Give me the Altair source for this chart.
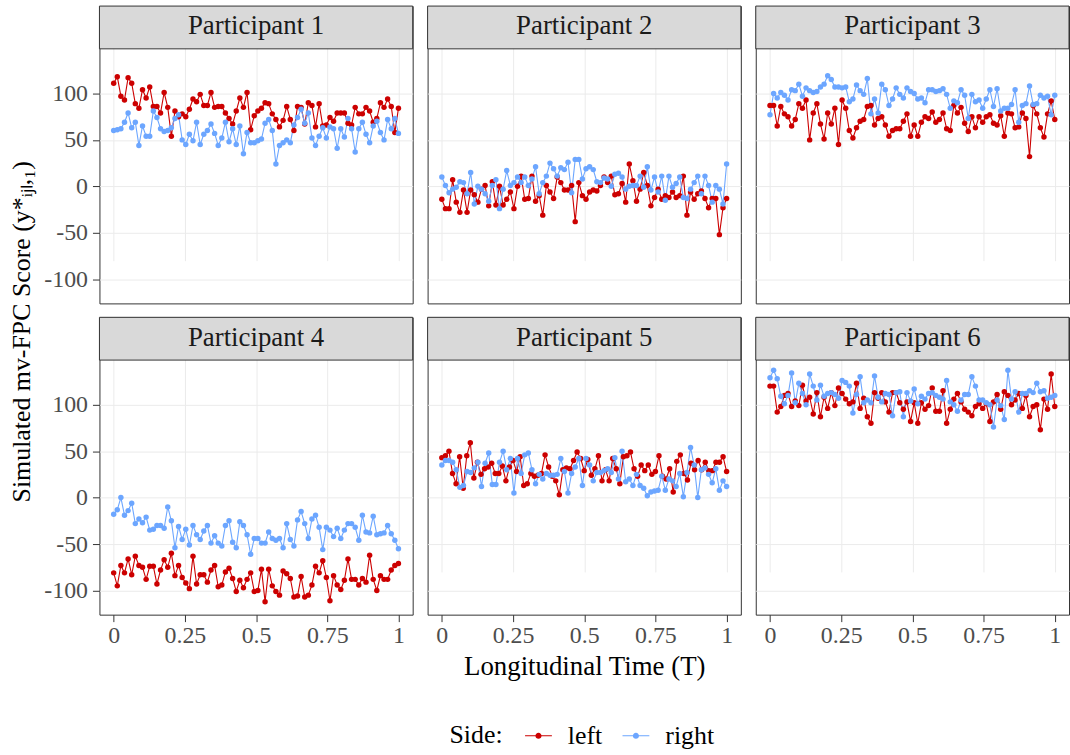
import altair as alt
import pandas as pd

# Simulated mv-FPC scores, one list per participant and side (evenly spaced times on [0, 1])
p1_left = [111, 118, 97, 93, 117, 111, 89, 84, 104, 95, 107, 86, 86, 79, 101, 85, 54, 81, 75, 78,
           75, 83, 94, 91, 99, 87, 87, 101, 85, 86, 86, 79, 73, 67, 81, 95, 85, 101, 61, 76,
           81, 84, 90, 89, 78, 72, 64, 71, 86, 72, 60, 86, 85, 67, 90, 87, 64, 89, 65, 66,
           74, 70, 79, 79, 79, 68, 66, 85, 78, 78, 85, 81, 69, 73, 90, 85, 94, 86, 58, 84]
p1_right = [60, 61, 62, 69, 79, 63, 69, 44, 65, 54, 54, 81, 74, 62, 59, 60, 63, 73, 77, 50,
            45, 56, 49, 69, 45, 56, 60, 67, 57, 44, 52, 69, 48, 62, 45, 65, 35, 58, 47, 47,
            49, 51, 68, 72, 60, 24, 44, 47, 50, 47, 66, 74, 83, 68, 79, 52, 44, 54, 63, 52,
            64, 62, 41, 62, 53, 73, 62, 37, 62, 69, 56, 47, 65, 70, 58, 50, 72, 62, 73, 57]
p2_left = [-14, -24, -24, 7, -17, -28, -4, -28, -4, -9, -17, -3, 1, -21, 5, -20, 0, -20, -14, -6,
           -24, 0, 11, -14, -13, 11, -16, -10, -31, 1, -6, -13, 10, 4, -4, -4, 1, -38, 4, -10,
           -14, -6, -4, -5, 1, 10, 4, 11, -9, -8, 3, -17, 24, 6, -16, -3, 15, 1, -21, -12,
           -3, -14, -10, -12, -6, -12, -10, 11, -31, -6, -14, -8, -5, -13, -23, -13, -13, -52, -23, -13]
p2_right = [10, 1, -7, -3, -1, 5, 4, -8, 15, -19, 0, -3, -8, -16, 1, 7, -24, -3, 17, 1,
            4, 10, 4, 10, 1, 8, 21, -8, 4, 11, 25, 19, 11, 20, 18, 26, -7, 29, 29, 8,
            19, 21, 18, 5, 4, 9, 8, 0, 13, 14, 10, -3, 0, 1, 1, 11, -1, 21, -4, 10,
            -6, 11, -15, 11, -1, 3, 10, -12, -13, -3, 4, 11, -8, 11, 1, -17, 1, -3, -19, 24]
p3_left = [87, 87, 65, 86, 78, 75, 65, 72, 89, 84, 93, 50, 79, 89, 67, 51, 79, 67, 84, 45,
           93, 84, 60, 52, 63, 70, 72, 86, 87, 66, 73, 75, 66, 54, 60, 62, 62, 70, 78, 54,
           66, 54, 69, 75, 73, 80, 69, 72, 79, 62, 60, 87, 79, 85, 68, 59, 75, 63, 75, 69,
           75, 77, 68, 66, 76, 54, 79, 78, 63, 64, 79, 73, 32, 87, 78, 63, 53, 78, 92, 72]
p3_right = [77, 100, 95, 101, 98, 93, 104, 103, 110, 97, 106, 103, 101, 102, 107, 110, 119, 115, 107, 107,
            106, 107, 91, 94, 109, 103, 99, 116, 78, 94, 79, 110, 104, 87, 94, 106, 99, 95, 106, 102,
            100, 94, 95, 90, 104, 104, 102, 103, 105, 99, 84, 92, 90, 104, 98, 73, 99, 91, 93, 84,
            94, 104, 86, 105, 81, 84, 84, 88, 104, 69, 87, 89, 108, 88, 89, 98, 95, 97, 77, 98]
p4_left = [-81, -95, -73, -81, -66, -83, -63, -73, -75, -88, -74, -74, -93, -78, -67, -75, -60, -84, -73, -86,
           -92, -98, -63, -93, -83, -83, -91, -78, -73, -96, -94, -80, -76, -87, -101, -89, -97, -88, -81, -101,
           -100, -77, -112, -77, -95, -101, -105, -79, -82, -87, -107, -106, -85, -107, -105, -94, -74, -81, -68, -86,
           -111, -84, -94, -99, -89, -66, -88, -88, -94, -87, -91, -62, -88, -100, -84, -88, -88, -78, -73, -71]
p4_right = [-18, -13, 0, -19, -14, -6, -28, -23, -27, -21, -35, -34, -30, -30, -33, -10, -25, -54, -31, -45,
            -34, -51, -30, -40, -45, -36, -30, -49, -41, -49, -52, -30, -25, -48, -54, -26, -30, -40, -61, -44,
            -44, -49, -49, -37, -44, -46, -44, -54, -28, -45, -52, -24, -15, -28, -44, -23, -19, -32, -56, -32,
            -35, -42, -33, -44, -35, -28, -28, -32, -46, -19, -37, -38, -20, -40, -39, -38, -30, -39, -46, -55]
p5_left = [43, 45, 50, 26, 15, 44, 10, 45, 59, 21, 38, 25, 31, 33, 37, 26, 26, 34, 18, 33,
           40, 28, 44, 13, 15, 26, 23, 24, 26, 46, 33, 23, 18, 3, 30, 32, 31, 40, 49, 42,
           29, 41, 24, 31, 45, 18, 30, 18, 42, 31, 15, 44, 45, 49, 31, 23, 35, 29, 35, 25,
           28, 45, 23, 20, 31, 6, 39, 46, 26, 19, 37, 30, 40, 30, 38, 29, 29, 38, 38, 44, 28]
p5_right = [35, 40, 40, 38, 30, 11, 13, 28, 27, 32, 38, 12, 37, 48, 14, 14, 38, 50, 30, 42,
            5, 42, 26, 46, 48, 30, 15, 25, 20, 26, 24, 24, 25, 42, 28, 5, 26, 33, 42, 13,
            42, 35, 18, 27, 27, 29, 31, 27, 43, 20, 50, 17, 20, 13, 25, 13, 10, 2, 6, 7,
            8, 23, 8, 20, 18, 12, 26, 1, 27, 54, 35, 0, 30, 32, 25, 16, 31, 8, 18, 12]
p6_left = [120, 120, 92, 98, 110, 112, 98, 104, 99, 121, 104, 108, 90, 113, 87, 108, 96, 113, 99, 118,
           112, 106, 101, 103, 123, 96, 107, 87, 80, 113, 107, 113, 103, 92, 113, 113, 102, 95, 103, 82,
           102, 80, 102, 95, 99, 118, 93, 93, 115, 80, 95, 106, 112, 103, 95, 92, 88, 98, 101, 96,
           101, 82, 103, 111, 95, 114, 110, 100, 105, 112, 96, 110, 87, 98, 100, 73, 106, 95, 133, 98]
p6_right = [129, 137, 128, 109, 101, 110, 134, 102, 123, 112, 100, 133, 120, 105, 121, 109, 112, 113, 111, 107,
            126, 124, 120, 91, 111, 130, 102, 105, 102, 131, 108, 103, 112, 111, 88, 113, 114, 87, 113, 104,
            117, 101, 109, 106, 112, 113, 110, 108, 106, 126, 103, 100, 93, 105, 111, 111, 130, 120, 105, 105,
            102, 100, 76, 105, 99, 84, 137, 106, 114, 92, 112, 112, 115, 113, 123, 114, 115, 107, 108, 110]

participants = ["Participant 1", "Participant 2", "Participant 3",
                "Participant 4", "Participant 5", "Participant 6"]
left_series = [p1_left, p2_left, p3_left, p4_left, p5_left, p6_left]
right_series = [p1_right, p2_right, p3_right, p4_right, p5_right, p6_right]
sides = ["left", "right"]
side_colors = ["#CC0000", "#6CA6FF"]
x_ticks = [0, 0.25, 0.5, 0.75, 1]
y_ticks = [-100, -50, 0, 50, 100]

records = []
for name, lv, rv in zip(participants, left_series, right_series):
    for side, vals in (("left", lv), ("right", rv)):
        n = len(vals)
        for i, v in enumerate(vals):
            records.append({"participant": name, "side": side, "time": i / (n - 1), "score": v})
df = pd.DataFrame(records)

FONT = "Liberation Serif"
PW, PH, SH = 315, 256, 43          # panel width, plotting height, strip height
TOTAL_H = PH + SH
GRID = "#EBEBEB"
DARK = "#333333"

# legend key: a short line with a dot in the middle (filled shapes only)
legend_symbol = ("M-1,-0.045L-0.2,-0.045L-0.2,0.045L-1,0.045Z"
                 "M0.2,-0.045L1,-0.045L1,0.045L0.2,0.045Z"
                 "M0.23,0A0.23,0.23,0,1,1,-0.23,0A0.23,0.23,0,1,1,0.23,0Z")

color_scale = alt.Scale(domain=sides, range=side_colors)
side_legend = alt.Legend(title="Side:", orient="none", legendX=352, legendY=720,
                         direction="horizontal", titleOrient="left",
                         symbolType=legend_symbol, symbolSize=729, symbolStrokeWidth=0,
                         titleFont=FONT, titleFontSize=26, titleFontWeight="normal",
                         titleColor="#000000", titlePadding=22,
                         labelFont=FONT, labelFontSize=26, labelColor="#000000",
                         labelOffset=16, columnPadding=20)


def panel(idx):
    name = participants[idx]
    col, row = idx % 3, idx // 3
    show_x = row == 1
    show_y = col == 0

    x_axis = alt.Axis(values=x_ticks, labelExpr="toString(datum.value)", labels=show_x,
                      ticks=show_x, domain=False, grid=True, gridColor=GRID, gridWidth=1,
                      tickColor=DARK, tickSize=7, tickWidth=1, labelPadding=2,
                      labelFont=FONT, labelFontSize=24, labelColor="#4D4D4D",
                      title="Longitudinal Time (T)" if (show_x and col == 1) else None,
                      titleFont=FONT, titleFontSize=27, titleFontWeight="normal",
                      titleColor="#000000", titlePadding=6)
    y_kw = dict(values=y_ticks, labelExpr="toString(datum.value)", labels=show_y,
                ticks=show_y, domain=False, grid=True, gridColor=GRID, gridWidth=1,
                tickColor=DARK, tickSize=7, tickWidth=1, labelPadding=5,
                labelFont=FONT, labelFontSize=24, labelColor="#4D4D4D",
                titleFont=FONT, titleFontSize=26, titleFontWeight="normal", titleColor="#000000")
    if show_y and row == 0:
        y_axis = alt.Axis(title="Simulated mv-FPC Score (y*ᵢⱼₗ,₁)", titleY=327, titleX=-78,
                          titleAngle=270, titleAlign="center", titleBaseline="middle", **y_kw)
    else:
        y_axis = alt.Axis(title=None, **y_kw)

    x = alt.X("time:Q", scale=alt.Scale(domain=[-0.05, 1.05], nice=False, zero=False), axis=x_axis)
    # the top SH pixels of each panel hold the strip label, data use the rest
    y = alt.Y("score:Q", scale=alt.Scale(domain=[-126, 148], nice=False, zero=False,
                                         range=[TOTAL_H, SH]), axis=y_axis)

    base = alt.Chart(df).transform_filter(alt.datum.participant == name)
    lines = base.mark_line(strokeWidth=1.1).encode(
        x=x, y=y, color=alt.Color("side:N", scale=color_scale, legend=side_legend))
    points = base.mark_point(filled=True, size=30, opacity=1).encode(
        x=x, y=y, color=alt.Color("side:N", scale=color_scale, legend=side_legend))

    label_df = pd.DataFrame({"label": [name]})
    strip_box = alt.Chart(label_df).mark_rect(fill="#D9D9D9", stroke=DARK, strokeWidth=1).encode(
        x=alt.value(0), x2=alt.value(PW), y=alt.value(0), y2=alt.value(SH))
    strip_text = alt.Chart(label_df).mark_text(
        font=FONT, fontSize=27, color="#1A1A1A", baseline="middle", align="center"
    ).encode(text="label:N", x=alt.value(PW / 2), y=alt.value(SH / 2 - 1))

    return alt.layer(lines, points, strip_box, strip_text).properties(width=PW, height=TOTAL_H)


chart = alt.concat(*[panel(i) for i in range(6)], columns=3,
                   spacing={"row": 14, "column": 15}, bounds="flush").properties(
    padding={"left": 8, "top": 3, "right": 0, "bottom": 0},
    background="white",
).configure_view(stroke=DARK, strokeWidth=1)

chart.save("out.html", embed_options={"renderer": "svg", "actions": False})
